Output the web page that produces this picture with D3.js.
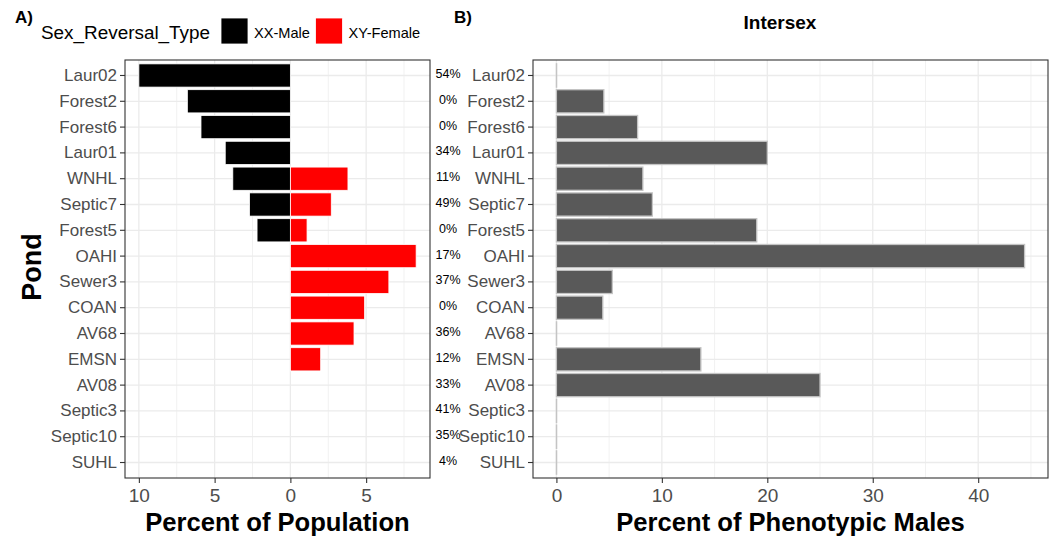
<!DOCTYPE html>
<html>
<head>
<meta charset="utf-8">
<script src="https://cdn.jsdelivr.net/npm/d3@7"></script>
<style>
  body { margin: 0; background: #fff; }
  svg { font-family: "Liberation Sans", Arial, sans-serif; display: block; }
</style>
</head>
<body>
<div id="app"></div>
<script>
const W = 1052;
const H = 538;

// data
const ponds = ["Laur02", "Forest2", "Forest6", "Laur01", "WNHL", "Septic7", "Forest5", "OAHI",
  "Sewer3", "COAN", "AV68", "EMSN", "AV08", "Septic3", "Septic10", "SUHL"];
const xxMale = [10.0, 6.8, 5.9, 4.3, 3.8, 2.7, 2.2, 0, 0, 0, 0, 0, 0, 0, 0, 0];
const xyFemale = [0, 0, 0, 0, 3.8, 2.7, 1.1, 8.3, 6.5, 4.9, 4.2, 2.0, 0, 0, 0, 0];
const intersex = [0, 4.5, 7.7, 20.0, 8.2, 9.1, 19.0, 44.4, 5.3, 4.4, 0, 13.7, 25.0, 0, 0, 0];
const pctLabels = ["54%", "0%", "0%", "34%", "11%", "49%", "0%", "17%", "37%", "0%", "36%", "12%",
  "33%", "41%", "35%", "4%"];
const popTicks = [-10, -5, 0, 5];
const popMinor = [-7.5, -2.5, 2.5, 7.5];
const intTicks = [0, 10, 20, 30, 40];
const intMinor = [5, 15, 25, 35, 45];
const legendItems = [{ label: "XX-Male", color: "#000000" }, { label: "XY-Female", color: "#ff0000" }];

const svg = d3.select("#app").append("svg").attr("width", W).attr("height", H);

const plotTop = 60, plotBottom = 478;
const y = d3.scaleBand().domain(ponds).range([plotTop, plotBottom]).paddingInner(0.1).paddingOuter(0.15);

// ggplot-like expand of 5%
const expand = (lo, hi) => { const p = (hi - lo) * 0.05; return [lo - p, hi + p]; };

const xL = d3.scaleLinear()
  .domain(expand(-d3.max(xxMale), d3.max(xyFemale)))
  .range([125, 430]);
const xR = d3.scaleLinear()
  .domain(expand(0, d3.max(intersex)))
  .range([533, 1048]);

function panel(x, ticks, minor) {
  const g = svg.append("g");
  const [x0, x1] = x.range();
  g.append("rect").attr("x", x0).attr("y", plotTop).attr("width", x1 - x0).attr("height", plotBottom - plotTop)
    .attr("fill", "#fff");
  g.selectAll(".minor").data(minor).enter().append("line")
    .attr("x1", d => x(d)).attr("x2", d => x(d)).attr("y1", plotTop).attr("y2", plotBottom)
    .attr("stroke", "#ebebeb").attr("stroke-width", 0.7);
  g.selectAll(".major").data(ticks).enter().append("line")
    .attr("x1", d => x(d)).attr("x2", d => x(d)).attr("y1", plotTop).attr("y2", plotBottom)
    .attr("stroke", "#ebebeb").attr("stroke-width", 1.3);
  g.selectAll(".hgrid").data(ponds).enter().append("line")
    .attr("x1", x0).attr("x2", x1)
    .attr("y1", d => y(d) + y.bandwidth() / 2).attr("y2", d => y(d) + y.bandwidth() / 2)
    .attr("stroke", "#ebebeb").attr("stroke-width", 1.3);
  return g;
}

function border(x) {
  const [x0, x1] = x.range();
  svg.append("rect").attr("x", x0).attr("y", plotTop).attr("width", x1 - x0).attr("height", plotBottom - plotTop)
    .attr("fill", "none").attr("stroke", "#333").attr("stroke-width", 1.1);
}

function axes(x, ticks, fmt) {
  const [x0] = x.range();
  const ya = svg.append("g").attr("transform", `translate(${x0},0)`)
    .call(d3.axisLeft(y).tickSize(5).tickPadding(3));
  const xa = svg.append("g").attr("transform", `translate(0,${plotBottom})`)
    .call(d3.axisBottom(x).tickValues(ticks).tickFormat(fmt).tickSize(5).tickPadding(6));
  [ya, xa].forEach(a => {
    a.select(".domain").remove();
    a.selectAll(".tick line").attr("stroke", "#333").attr("stroke-width", 1.1);
    a.selectAll(".tick text").attr("fill", "#4d4d4d");
  });
  ya.attr("font-family", null).attr("font-size", 17);
  xa.attr("font-family", null).attr("font-size", 19);
}

// panel A
const gA = panel(xL, popTicks, popMinor);
gA.selectAll(".male").data(ponds.filter((p, i) => xxMale[i] > 0)).enter().append("rect")
  .attr("x", d => xL(-xxMale[ponds.indexOf(d)]))
  .attr("width", d => xL(0) - xL(-xxMale[ponds.indexOf(d)]))
  .attr("y", d => y(d)).attr("height", y.bandwidth())
  .attr("fill", "#000").attr("stroke", "#fff").attr("stroke-width", 0.8);
gA.selectAll(".female").data(ponds.filter((p, i) => xyFemale[i] > 0)).enter().append("rect")
  .attr("x", xL(0))
  .attr("width", d => xL(xyFemale[ponds.indexOf(d)]) - xL(0))
  .attr("y", d => y(d)).attr("height", y.bandwidth())
  .attr("fill", "#ff0000").attr("stroke", "#fff").attr("stroke-width", 0.8);
border(xL);
axes(xL, popTicks, d => Math.abs(d));

// panel B
const gB = panel(xR, intTicks, intMinor);
gB.selectAll(".int").data(ponds).enter().append("rect")
  .attr("x", xR(0))
  .attr("width", (d, i) => Math.max(xR(intersex[i]) - xR(0), 0.2))
  .attr("y", d => y(d)).attr("height", y.bandwidth())
  .attr("fill", "#595959").attr("stroke", "#c4c4c4").attr("stroke-width", 1.3);
border(xR);
axes(xR, intTicks, d3.format("d"));

// percent labels between panels
svg.append("g").selectAll("text").data(ponds).enter().append("text")
  .attr("x", 448).attr("y", d => y(d) + y.bandwidth() / 2 - 1.5)
  .attr("dominant-baseline", "central").attr("text-anchor", "middle")
  .attr("font-size", 12.5).attr("fill", "#000")
  .text((d, i) => pctLabels[i]);

// axis titles
svg.append("text").attr("x", (xL.range()[0] + xL.range()[1]) / 2).attr("y", 531)
  .attr("text-anchor", "middle").attr("font-size", 25.6).attr("font-weight", "bold")
  .text("Percent of Population");
svg.append("text").attr("x", (xR.range()[0] + xR.range()[1]) / 2).attr("y", 531)
  .attr("text-anchor", "middle").attr("font-size", 25.6).attr("font-weight", "bold")
  .text("Percent of Phenotypic Males");
svg.append("text").attr("transform", "translate(41,267) rotate(-90)")
  .attr("text-anchor", "middle").attr("font-size", 27).attr("font-weight", "bold")
  .text("Pond");

// panel tags + title
svg.append("text").attr("x", 15).attr("y", 23).attr("font-size", 17).attr("font-weight", "bold").text("A)");
svg.append("text").attr("x", 454).attr("y", 23).attr("font-size", 17).attr("font-weight", "bold").text("B)");
svg.append("text").attr("x", 780).attr("y", 29).attr("text-anchor", "middle")
  .attr("font-size", 19).attr("font-weight", "bold").text("Intersex");

// legend
svg.append("text").attr("x", 41).attr("y", 39).attr("font-size", 18.9).attr("fill", "#000")
  .text("Sex_Reversal_Type");
const leg = svg.append("g").selectAll("g").data(legendItems).enter().append("g")
  .attr("transform", (d, i) => `translate(${221 + i * 94.5},18)`);
leg.append("rect").attr("width", 27).attr("height", 26).attr("fill", d => d.color)
  .attr("stroke", "#fff").attr("stroke-width", 0.8);
leg.append("text").attr("x", 33).attr("y", 19.5).attr("font-size", 14.6).attr("fill", "#000")
  .text(d => d.label);
</script>
</body>
</html>
